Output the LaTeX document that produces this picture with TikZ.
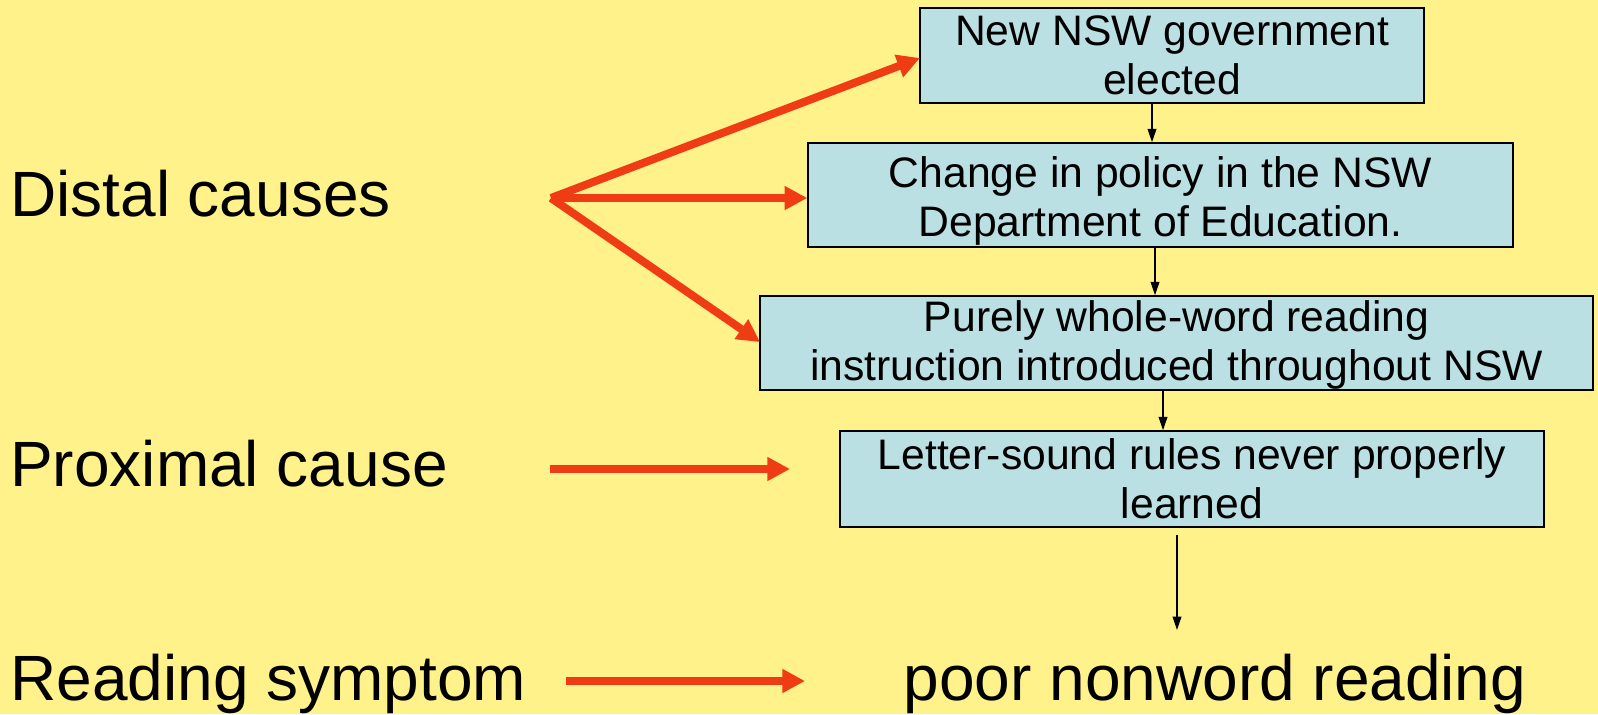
\documentclass[tikz,border=0pt]{standalone}
\usepackage{fontspec}
\setmainfont{Liberation Sans}
\usetikzlibrary{arrows.meta}
\definecolor{bgyellow}{RGB}{255,242,138}
\definecolor{boxblue}{RGB}{187,224,227}
\definecolor{redarrow}{RGB}{240,60,20}
\tikzset{
  box/.style={draw=black, line width=1.1pt, fill=boxblue, inner sep=0pt, align=center,
    font=\fontsize{32}{37}\selectfont},
  biglabel/.style={anchor=base west, inner sep=0pt, font=\fontsize{48}{56}\selectfont},
  redarr/.style={draw=redarrow, line width=6pt, -{Triangle[length=17pt,width=17pt]}},
  blackarr/.style={draw=black, line width=1.1pt, -{Triangle[length=10pt,width=6.5pt]}}
}
\begin{document}
\begin{tikzpicture}[x=0.75pt,y=-0.75pt]
\useasboundingbox (0,0) rectangle (1598,714);
\fill[bgyellow] (0,0) rectangle (1598,714);

\node[box, minimum width=378pt, minimum height=71.25pt] (b1) at (1172,55.5) {New NSW government\\elected};
\node[box, minimum width=528.75pt, minimum height=78pt] (b2) at (1160.5,195) {\rule{0pt}{32pt}Change in policy in the NSW\\Department of Education.};
\node[box, minimum width=624.75pt, minimum height=70.5pt] (b3) at (1176.5,343) {\rule{0pt}{26pt}Purely whole-word reading\\instruction introduced throughout NSW};
\node[box, minimum width=528pt, minimum height=72pt] (b4) at (1192,479) {Letter-sound rules never properly\\learned};

\node[biglabel] (distal) at (10,216) {Distal causes};
\node[biglabel] (proximal) at (10,486) {Proximal cause};
\node[biglabel] (symptom) at (10,700) {Reading symptom};
\node[anchor=base, inner sep=0pt, font=\fontsize{48}{56}\selectfont] (poor) at (1215,700) {poor nonword reading};

% red arrows
\coordinate (o) at (551,198);
\coordinate (t1) at (920,58);
\coordinate (t3) at (760,342);
\draw[redarr] (o) -- (t1);
\draw[redarr] (o) -- (o -| b2.west);
\draw[redarr] (o) -- (t3);
\coordinate (p1) at (550,469);
\coordinate (p2) at (790,469);
\draw[redarr] (p1) -- (p2);
\coordinate (s1) at (566,681);
\coordinate (s2) at (805,681);
\draw[redarr] (s1) -- (s2);

% black arrows
\coordinate (x1) at (1152,0);
\coordinate (x2) at (1155,0);
\coordinate (x3) at (1163,0);
\draw[blackarr] (b1.south -| x1) -- (b2.north -| x1);
\draw[blackarr] (b2.south -| x2) -- (b3.north -| x2);
\draw[blackarr] (b3.south -| x3) -- (b4.north -| x3);
\coordinate (l1) at (1177,535);
\coordinate (l2) at (1177,630);
\draw[blackarr] (l1) -- (l2);
\end{tikzpicture}
\end{document}
